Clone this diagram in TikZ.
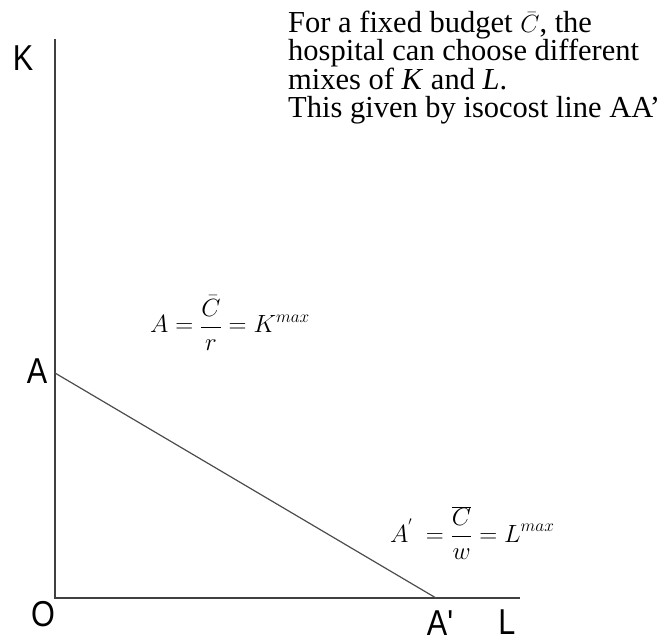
\documentclass[tikz,border=0pt]{standalone}
\usepackage{fontspec}
\setmainfont{Liberation Serif}
\newfontfamily\axisfont[FakeStretch=0.85]{Liberation Sans}
\usetikzlibrary{calc}

\tikzset{
  axis/.style={line width=1.6pt, black!75},
  budget/.style={line width=1.2pt, black!70},
  axislbl/.style={font=\axisfont\fontsize{36}{40}\selectfont, inner sep=0pt},
  eqn/.style={font=\fontsize{25}{28}\selectfont, inner sep=0pt, anchor=base west},
}

\begin{document}
\begin{tikzpicture}[x=1pt, y=-1pt]
  \useasboundingbox (0,0) rectangle (672,644);
  \coordinate (O) at (55,598);
  \coordinate (Ktop) at (55,39);
  \coordinate (Lend) at (520,598);
  \coordinate (A) at (55,373);
  \coordinate (Ap) at (436,598);

  \draw[axis] (Ktop) -- (O) -- (Lend);
  \draw[budget] (A) -- (Ap);

  \node[axislbl] (Klab) at (23,58) {K};
  \node[axislbl] (Alab) at (37,371) {A};
  \node[axislbl] (Olab) at (43,614) {O};
  \node[axislbl] (Aplab) at (440,623) {A'};
  \node[axislbl] (Llab) at (507,622) {L};

  \node[eqn] (kmax) at (150,333) {$\displaystyle A=\frac{\bar{C}}{r}=K^{max}$};
  \node[eqn] (lmax) at (390,542) {$\displaystyle A^{'}\ =\frac{\overline{C}}{w}=L^{max}$};

  % last line's baseline
  \node[font=\fontsize{30.5}{28.5}\selectfont, align=left, anchor=base west, inner sep=0pt]
    (note) at (288,118) {For a fixed budget $\bar{C}$, the\\
    hospital can choose different\\
    mixes of \textit{K} and \textit{L}.\\
    This given by isocost line AA'};
\end{tikzpicture}
\end{document}
